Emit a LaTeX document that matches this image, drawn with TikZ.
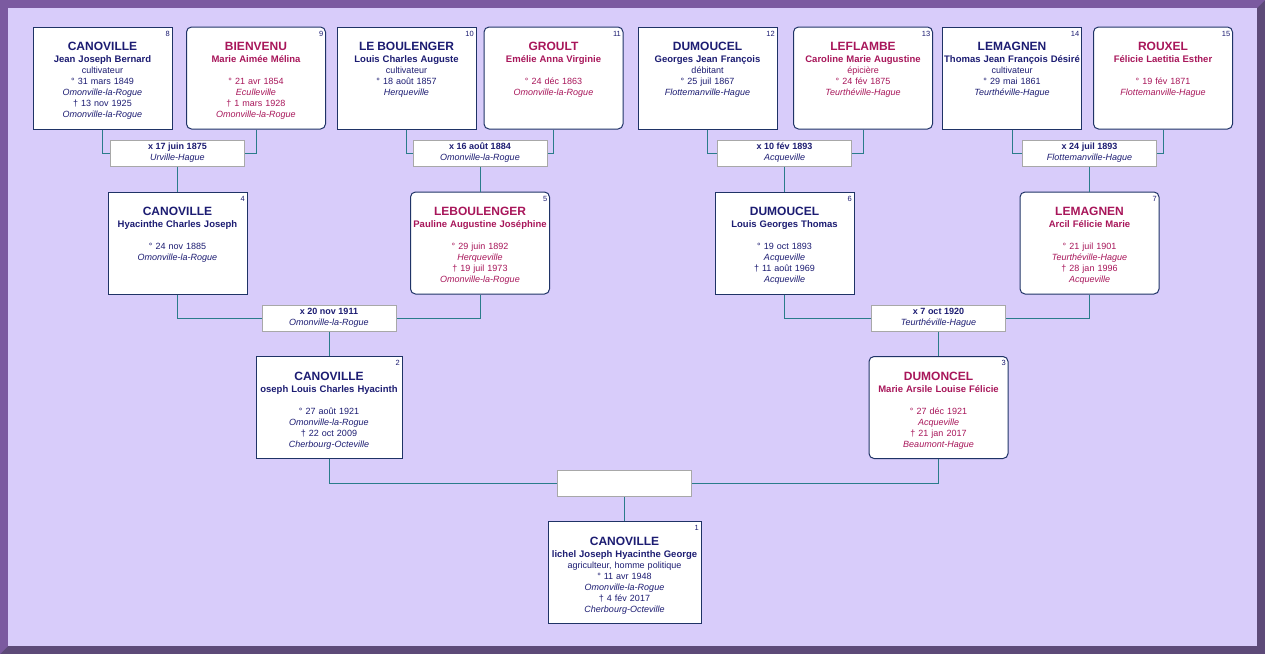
\documentclass[tikz,border=0pt]{standalone}
\usepackage{fontspec}
\setmainfont{Liberation Sans}
\usepackage{tikz}
\definecolor{framelight}{HTML}{7B5AA0}
\definecolor{framedark}{HTML}{5D4A78}
\definecolor{paper}{HTML}{D8CCFA}
\definecolor{boxline}{HTML}{1F3366}
\definecolor{linkcol}{HTML}{2A7C8A}
\definecolor{wedline}{HTML}{A8A8A8}
\definecolor{mancol}{HTML}{1C1C72}
\definecolor{womancol}{HTML}{A8165A}
\tikzset{
	man/.style={draw=boxline, line width=1pt, fill=white, text=mancol, inner sep=0pt, minimum width=139pt, minimum height=102pt, text width=139pt, font=\fontsize{9}{11}\selectfont},
	woman/.style={man, rounded corners=5pt, text=womancol},
	num/.style={anchor=north east, inner sep=0pt, xshift=-2.5pt, yshift=-4.5pt, text=mancol, font=\fontsize{7.5}{8}\selectfont},
	wedding/.style={draw=wedline, line width=1pt, fill=white, text=mancol, inner sep=0pt, minimum width=134pt, minimum height=26pt, align=center, font=\fontsize{9}{11}\selectfont},
	link/.style={draw=linkcol, line width=1pt}
}
\def\who#1#2#3#4#5#6#7{\vbox to 102pt{\centering\vskip 15.5pt
{\fontsize{12}{13}\selectfont\bfseries #1}\strut\\[1pt]
{\fontsize{9.5}{11}\selectfont\bfseries #2}\strut\\
#3\strut\\
#4\strut\\
\textit{#5}\strut\\
#6\strut\\
\textit{#7}\strut\par\vfil}}
\def\wed#1#2{\textbf{#1}\\\textit{#2}}

\begin{document}
\begin{tikzpicture}[x=1pt,y=-1pt]
	%%%%% START %%%%%
	\useasboundingbox (0,0) rectangle (1265,654);
	
	\fill[framedark] (0,0) rectangle (1265,654);
	\fill[framelight] (0,0) -- (1265,0) -- (1257,8) -- (8,8) -- (8,646) -- (0,654) -- cycle;
	\fill[paper] (8,8) rectangle (1257,646);
	
	% great-grandparents
	\node[man, label={[num]north east:8}] (p8) at (102.5,78) {\who{CANOVILLE}{Jean Joseph Bernard}{cultivateur}{° 31 mars 1849}{Omonville-la-Rogue}{† 13 nov 1925}{Omonville-la-Rogue}};
	\node[woman, label={[num]north east:9}] (p9) at (256,78) {\who{BIENVENU}{Marie Aimée Mélina}{}{° 21 avr 1854}{Eculleville}{† 1 mars 1928}{Omonville-la-Rogue}};
	\node[man, label={[num]north east:10}] (p10) at (406.5,78) {\who{LE BOULENGER}{Louis Charles Auguste}{cultivateur}{° 18 août 1857}{Herqueville}{}{}};
	\node[woman, label={[num]north east:11}] (p11) at (553.5,78) {\who{GROULT}{Emélie Anna Virginie}{}{° 24 déc 1863}{Omonville-la-Rogue}{}{}};
	\node[man, label={[num]north east:12}] (p12) at (707.5,78) {\who{DUMOUCEL}{Georges Jean François}{débitant}{° 25 juil 1867}{Flottemanville-Hague}{}{}};
	\node[woman, label={[num]north east:13}] (p13) at (863,78) {\who{LEFLAMBE}{Caroline Marie Augustine}{épicière}{° 24 fév 1875}{Teurthéville-Hague}{}{}};
	\node[man, label={[num]north east:14}] (p14) at (1012,78) {\who{LEMAGNEN}{Thomas Jean François Désiré}{cultivateur}{° 29 mai 1861}{Teurthéville-Hague}{}{}};
	\node[woman, label={[num]north east:15}] (p15) at (1163,78) {\who{ROUXEL}{Félicie Laetitia Esther}{}{° 19 fév 1871}{Flottemanville-Hague}{}{}};
	
	\node[wedding] (m4) at (177.5,153) {\wed{x 17 juin 1875}{Urville-Hague}};
	\node[wedding] (m5) at (480,153) {\wed{x 16 août 1884}{Omonville-la-Rogue}};
	\node[wedding] (m6) at (784.5,153) {\wed{x 10 fév 1893}{Acqueville}};
	\node[wedding] (m7) at (1089.5,153) {\wed{x 24 juil 1893}{Flottemanville-Hague}};
	
	% grandparents
	\node[man, label={[num]north east:4}] (p4) at (177.5,243) {\who{CANOVILLE}{Hyacinthe Charles Joseph}{}{° 24 nov 1885}{Omonville-la-Rogue}{}{}};
	\node[woman, label={[num]north east:5}] (p5) at (480,243) {\who{LEBOULENGER}{Pauline Augustine Joséphine}{}{° 29 juin 1892}{Herqueville}{† 19 juil 1973}{Omonville-la-Rogue}};
	\node[man, label={[num]north east:6}] (p6) at (784.5,243) {\who{DUMOUCEL}{Louis Georges Thomas}{}{° 19 oct 1893}{Acqueville}{† 11 août 1969}{Acqueville}};
	\node[woman, label={[num]north east:7}] (p7) at (1089.5,243) {\who{LEMAGNEN}{Arcil Félicie Marie}{}{° 21 juil 1901}{Teurthéville-Hague}{† 28 jan 1996}{Acqueville}};
	
	\node[wedding] (m2) at (329,318) {\wed{x 20 nov 1911}{Omonville-la-Rogue}};
	\node[wedding] (m3) at (938.5,318) {\wed{x 7 oct 1920}{Teurthéville-Hague}};
	
	% parents
	\node[man, minimum width=146pt, text width=146pt, label={[num]north east:2}] (p2) at (329,407.5) {\who{CANOVILLE}{oseph Louis Charles Hyacinth}{}{° 27 août 1921}{Omonville-la-Rogue}{† 22 oct 2009}{Cherbourg-Octeville}};
	\node[woman, label={[num]north east:3}] (p3) at (938.5,407.5) {\who{DUMONCEL}{Marie Arsile Louise Félicie}{}{° 27 déc 1921}{Acqueville}{† 21 jan 2017}{Beaumont-Hague}};
	
	\node[wedding] (m1) at (624.5,483.5) {};
	
	\node[man, minimum width=153pt, text width=153pt, label={[num]north east:1}] (p1) at (624.5,572.5) {\who{CANOVILLE}{lichel Joseph Hyacinthe George}{agriculteur, homme politique}{° 11 avr 1948}{Omonville-la-Rogue}{† 4 fév 2017}{Cherbourg-Octeville}};
	
	% links
	\draw[link] (p8.south) |- (m4.west);
	\draw[link] (p9.south) |- (m4.east);
	\draw[link] (m4.south) -- (p4.north);
	\draw[link] (p10.south) |- (m5.west);
	\draw[link] (p11.south) |- (m5.east);
	\draw[link] (m5.south) -- (p5.north);
	\draw[link] (p12.south) |- (m6.west);
	\draw[link] (p13.south) |- (m6.east);
	\draw[link] (m6.south) -- (p6.north);
	\draw[link] (p14.south) |- (m7.west);
	\draw[link] (p15.south) |- (m7.east);
	\draw[link] (m7.south) -- (p7.north);
	
	\draw[link] (p4.south) |- (m2.west);
	\draw[link] (p5.south) |- (m2.east);
	\draw[link] (m2.south) -- (p2.north);
	\draw[link] (p6.south) |- (m3.west);
	\draw[link] (p7.south) |- (m3.east);
	\draw[link] (m3.south) -- (p3.north);
	
	\draw[link] (p2.south) |- (m1.west);
	\draw[link] (p3.south) |- (m1.east);
	\draw[link] (m1.south) -- (p1.north);
	
	%%%%% END %%%%%
\end{tikzpicture}
\end{document}
